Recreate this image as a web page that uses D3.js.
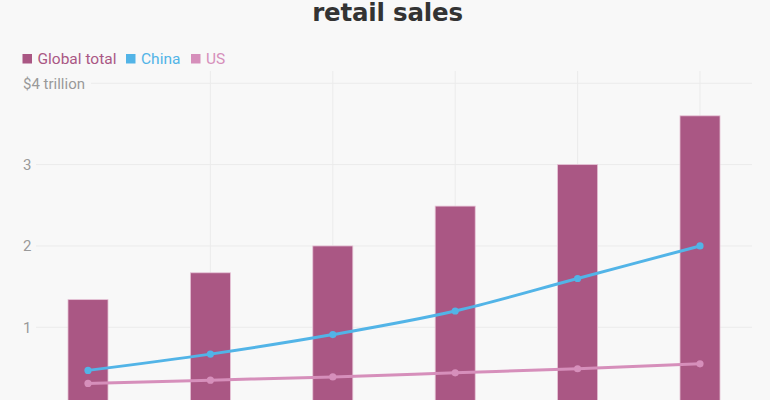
<!DOCTYPE html>
<html>
<head>
<meta charset="utf-8">
<script src="https://cdn.jsdelivr.net/npm/d3@7"></script>
<style>
  html, body { margin: 0; padding: 0; background: #f8f8f8; }
  svg { display: block; }
</style>
</head>
<body>
<svg id="chart" width="770" height="400"></svg>
<script>
const years = ["2015", "2016", "2017", "2018", "2019", "2020"];
const globalTotal = [1.34, 1.67, 2.0, 2.49, 3.0, 3.60];
const china = [0.47, 0.67, 0.91, 1.20, 1.60, 2.0];
const us = [0.31, 0.35, 0.39, 0.44, 0.49, 0.55];
const yTicks = [1, 2, 3, 4];
const yTickLabels = ["1", "2", "3", "$4 trillion"];
const seriesNames = ["Global total", "China", "US"];

const colors = { global: "#aa5784", china: "#52b4e7", us: "#d68fbb" };
const seriesColors = [colors.global, colors.china, colors.us];
const baseFont = "Roboto, 'Liberation Sans', sans-serif";

const svg = d3.select("#chart");
const W = 770, H = 400;

svg.append("rect").attr("width", W).attr("height", H).attr("fill", "#f8f8f8");

const x = d3.scaleBand().domain(years).range([26.8, 761.2]).paddingInner(0.673).paddingOuter(0.3365);
const y = d3.scaleLinear().domain([0, 4]).range([408.6, 83.3]);
const cx = d => x(d) + x.bandwidth() / 2;

// horizontal gridlines
const grid = svg.append("g");
yTicks.forEach(t => {
  grid.append("line")
    .attr("x1", t === 4 ? 91 : 36).attr("x2", 752)
    .attr("y1", y(t)).attr("y2", y(t))
    .attr("stroke", "#ebebeb").attr("stroke-width", 1);
});
// vertical gridlines (not at the first category)
years.slice(1).forEach(yr => {
  grid.append("line")
    .attr("x1", cx(yr)).attr("x2", cx(yr))
    .attr("y1", 71).attr("y2", y(0))
    .attr("stroke", "#ebebeb").attr("stroke-width", 1);
});

// y tick labels
svg.append("g").selectAll("text").data(yTicks).join("text")
  .attr("x", 23).attr("y", d => y(d) + 5.5)
  .style("font-family", baseFont)
  .attr("fill", "#9a9a9a").attr("font-size", 15)
  .text((d, i) => yTickLabels[i]);

// bars
svg.append("g").selectAll("rect").data(years).join("rect")
  .attr("x", d => x(d)).attr("width", x.bandwidth())
  .attr("y", (d, i) => y(globalTotal[i]))
  .attr("height", (d, i) => y(0) - y(globalTotal[i]))
  .attr("fill", colors.global)
  .attr("stroke", "#e6c3d6").attr("stroke-width", 0.8);

// lines
function drawLine(vals, color) {
  const line = d3.line().x((d, i) => cx(years[i])).y(d => y(d)).curve(d3.curveMonotoneX);
  svg.append("path").datum(vals).attr("d", line)
    .attr("fill", "none").attr("stroke", color).attr("stroke-width", 3);
  svg.append("g").selectAll("circle").data(vals).join("circle")
    .attr("cx", (d, i) => cx(years[i])).attr("cy", d => y(d)).attr("r", 3.6)
    .attr("fill", color);
}
drawLine(us, colors.us);
drawLine(china, colors.china);

// x axis labels (fall below the cropped visible area, as in the reference)
svg.append("g").selectAll("text").data(years).join("text")
  .attr("x", d => cx(d)).attr("y", y(0) + 20).attr("text-anchor", "middle")
  .style("font-family", baseFont)
  .attr("fill", "#9a9a9a").attr("font-size", 15).text(d => d);

// title
svg.append("text").attr("x", 387.5).attr("y", 21).attr("text-anchor", "middle")
  .style("font-family", "'DejaVu Sans', sans-serif")
  .attr("font-size", 24.5).attr("font-weight", 700).attr("fill", "#333333")
  .attr("letter-spacing", -0.2)
  .text("retail sales");

// legend
const legendX = [22.5, 126, 191];
const lg = svg.append("g");
seriesNames.forEach((name, i) => {
  lg.append("rect").attr("x", legendX[i]).attr("y", 54).attr("width", 9.5).attr("height", 9.5)
    .attr("fill", seriesColors[i]);
  lg.append("text").attr("x", legendX[i] + 15).attr("y", 64)
    .style("font-family", baseFont)
    .attr("font-size", 15.5).attr("fill", seriesColors[i]).text(name);
});
</script>
</body>
</html>
